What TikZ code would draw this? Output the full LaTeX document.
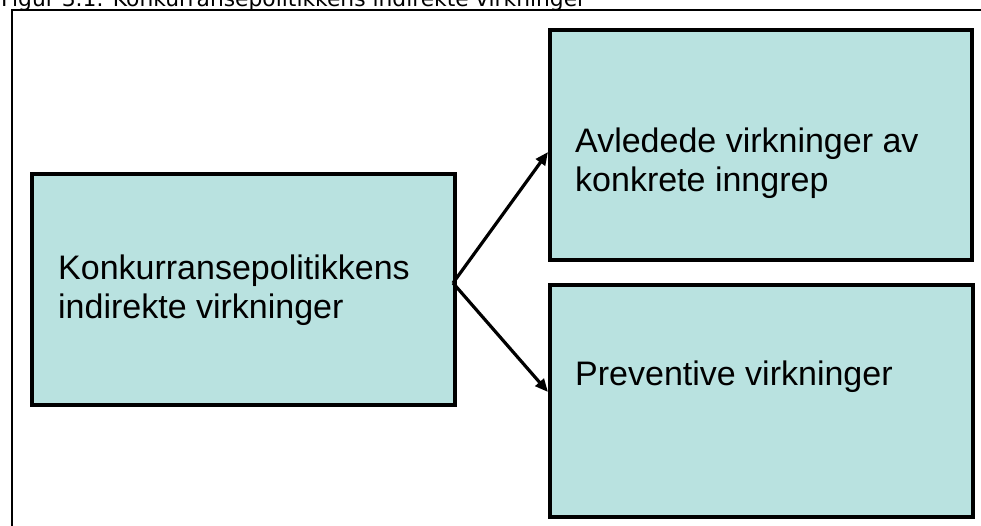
\documentclass[tikz,border=0pt]{standalone}
\usepackage{fontspec}
\setmainfont{Liberation Sans}
\newfontfamily\titlefont{DejaVu Sans}
\usetikzlibrary{arrows.meta}
\definecolor{boxfill}{RGB}{185,226,224}
\tikzset{
  box/.style={draw=black, fill=boxfill, line width=3.8pt, inner sep=0pt, anchor=north west},
  label/.style={inner sep=0pt, anchor=west, align=left, font=\fontsize{34}{39}\selectfont},
  conn/.style={line width=3.2pt, -{Triangle[length=13pt,width=11pt]}},
  frame/.style={line width=2pt}
}
\begin{document}
\begin{tikzpicture}[x=1pt,y=-1pt]
\useasboundingbox (0,0) rectangle (981,525);
\fill[white] (0,0) rectangle (981,525);
% title (cut off at top, as in the reference)
\node[inner sep=0pt, anchor=base west, font=\titlefont\fontsize{21.8}{24}\selectfont] (title) at (1,6.5) {Figur 3.1: Konkurransepolitikkens indirekte virkninger};
% outer frame (cut off right and bottom)
\draw[frame] (12,540) -- (12,9.5) -- (1000,9.5);
% boxes
\node[box, minimum width=423pt, minimum height=231pt] (L) at (30,172) {};
\node[box, minimum width=422pt, minimum height=230pt] (A) at (548,28) {};
\node[box, minimum width=423pt, minimum height=232pt] (B) at (548,283) {};
% texts
\node[label] (Lt) at (58,290) {Konkurransepolitikkens\\indirekte virkninger};
\node[label] (At) at (575,163) {Avledede virkninger av\\konkrete inngrep};
\node[label] (Bt) at (575,377) {Preventive virkninger};
% connectors
\coordinate (fork) at (453,283);
\coordinate (ta) at (548,152);
\coordinate (tb) at (548,392);
\draw[conn] (fork) -- (ta);
\draw[conn] (fork) -- (tb);
\end{tikzpicture}
\end{document}
